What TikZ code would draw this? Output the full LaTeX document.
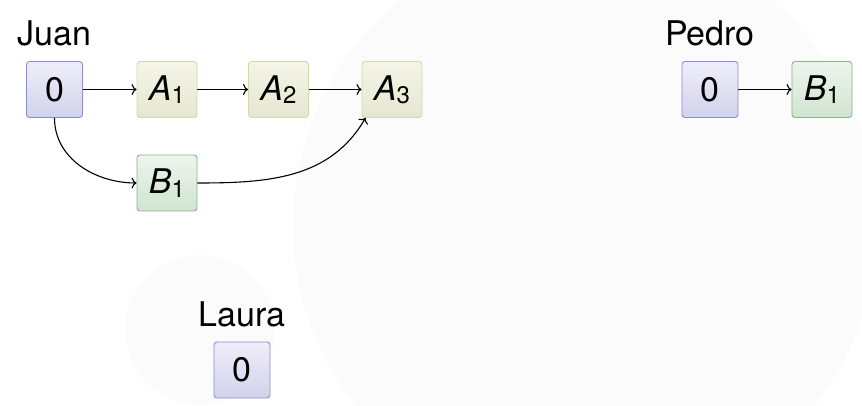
\documentclass[tikz,border=0pt]{standalone}
\usepackage{fontspec}
\setmainfont{TeX Gyre Heros}
\usetikzlibrary{positioning, arrows.meta}

\definecolor{zeroline}{HTML}{8C8CD0}
\definecolor{zerotop}{HTML}{EEEEF9}
\definecolor{zerobot}{HTML}{D2D2EC}
\definecolor{aline}{HTML}{D6D6A8}
\definecolor{atop}{HTML}{F5F5E8}
\definecolor{abot}{HTML}{E6E6D0}
\definecolor{bline}{HTML}{88B488}
\definecolor{btop}{HTML}{EDF5ED}
\definecolor{bbot}{HTML}{D0E4D0}

\tikzset{
  state/.style={rectangle, rounded corners=3pt, line width=0.9pt,
    minimum height=56pt, inner sep=4pt},
  zerostate/.style={state, draw=zeroline, top color=zerotop, bottom color=zerobot, minimum width=56pt},
  astate/.style={state, draw=aline, top color=atop, bottom color=abot, minimum width=60pt},
  bstate/.style={state, draw=bline, top color=btop, bottom color=bbot, minimum width=60pt},
  who/.style={inner sep=0pt, text depth=0pt}
}

\newcommand{\ev}[2]{\textit{#1}\raisebox{-0.1em}{\fontsize{24}{24}\selectfont #2}}

\begin{document}
\begin{tikzpicture}[x=1pt,y=1pt,->,>={To[length=5pt,width=11pt]},line width=1.1pt,font=\fontsize{34}{40}\selectfont]
  \useasboundingbox (0,0) rectangle (862,-406);
  % faint background
  \fill[black!1.5] (585,-225) circle (292);
  \fill[black!1.5] (200,-330) circle (75);

  % Juan
  \node[zerostate] (J0) at (54.5,-89.5) {0};
  \node[astate] (JA1) at (167,-89.5) {\ev{A}{1}};
  \node[astate] (JA2) at (278.5,-89.5) {\ev{A}{2}};
  \node[astate] (JA3) at (392,-89.5) {\ev{A}{3}};
  \node[bstate] (JB1) at (167,-183) {\ev{B}{1}};
  \node[who, above=15pt of J0] (juan) {Juan};

  \draw (J0) -- (JA1);
  \draw (JA1) -- (JA2);
  \draw (JA2) -- (JA3);
  \draw (J0.south) to[out=-90,in=180] (JB1.west);
  \draw (JB1.east) to[out=0,in=-120] (JA3.-133);

  % Pedro
  \node[zerostate] (P0) at (710,-89.5) {0};
  \node[bstate] (PB1) at (822,-89.5) {\ev{B}{1}};
  \node[who, above=15pt of P0] (pedro) {Pedro};
  \draw (P0) -- (PB1);

  % Laura
  \node[zerostate] (L0) at (242,-370) {0};
  \node[who, above=15pt of L0] (laura) {Laura};
\end{tikzpicture}
\end{document}
